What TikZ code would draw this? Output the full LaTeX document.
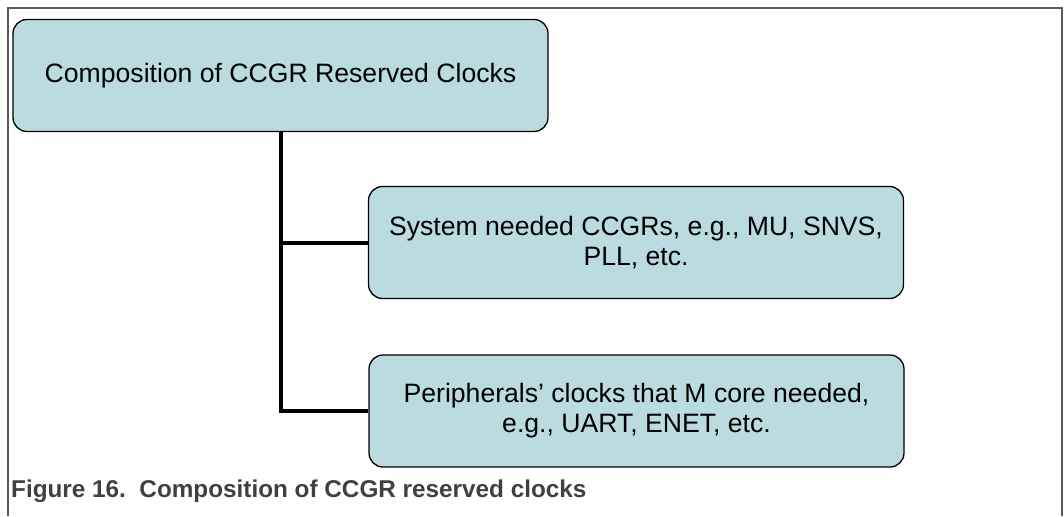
\documentclass[tikz,border=0pt]{standalone}
\usepackage{fontspec}
\setmainfont{Liberation Sans}
\definecolor{BoxFill}{HTML}{BADCE0}
\definecolor{FrameGray}{HTML}{5A5A5A}
\definecolor{CaptionGray}{HTML}{404040}
\usepackage{tikz}

\begin{document}
\begin{tikzpicture}[x=1pt,y=-1pt,
  clockbox/.style={draw=black,line width=1.3pt,fill=BoxFill,rounded corners=14pt,
    minimum width=535pt,minimum height=112pt,inner sep=0pt,align=center,
    font=\fontsize{26.6}{30}\selectfont},
  branch/.style={line width=4pt}]
  \useasboundingbox (0,0) rectangle (1064,516);

  % Frame (open at the bottom)
  \draw[FrameGray,line width=1.5pt] (8,516) -- (8,8) -- (1062,8) -- (1062,516);

  % Root
  \node[clockbox] (root) at (280.5,75.5) {Composition of CCGR Reserved Clocks};

  % Children
  \node[clockbox] (sysclk) at (636,242.5) {System needed CCGRs, e.g., MU, SNVS,\\PLL, etc.};
  \node[clockbox] (periclk) at (636.5,411) {Peripherals' clocks that M core needed,\\e.g., UART, ENET, etc.};

  % Tree lines
  \draw[branch] (root.south) |- (periclk.west);
  \draw[branch] (root.south |- sysclk.west) -- (sysclk.west);

  % Caption
  \node[anchor=base west,inner sep=0pt,text=CaptionGray,
    font=\bfseries\fontsize{24.3}{28}\selectfont] (caption) at (11,497)
    {Figure 16.\ \ Composition of CCGR reserved clocks};
\end{tikzpicture}
\end{document}
